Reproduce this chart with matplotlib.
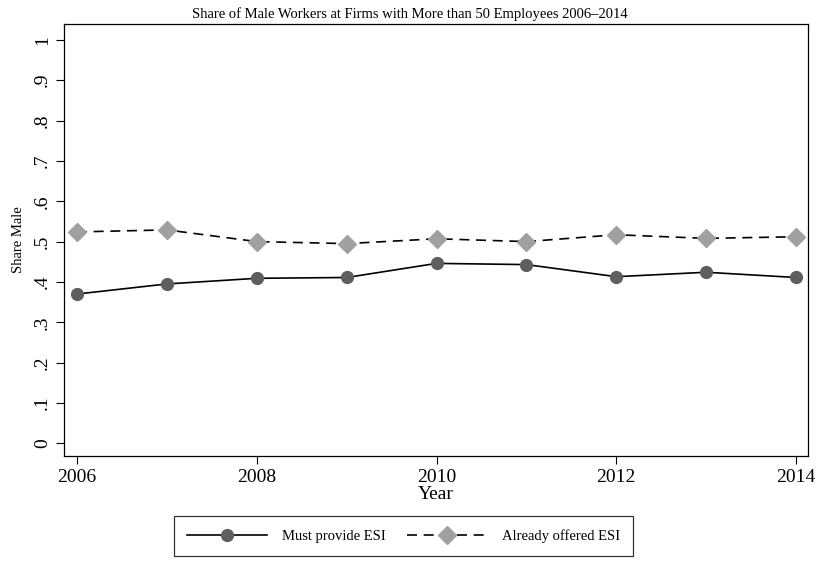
import numpy as np
import matplotlib.pyplot as plt
from matplotlib.ticker import FuncFormatter

years = [2006, 2007, 2008, 2009, 2010, 2011, 2012, 2013, 2014]
must_provide = [0.370, 0.395, 0.409, 0.411, 0.446, 0.443, 0.413, 0.424, 0.411]
already_offered = [0.524, 0.529, 0.500, 0.495, 0.507, 0.500, 0.517, 0.508, 0.512]
y_ticks = [0, 0.1, 0.2, 0.3, 0.4, 0.5, 0.6, 0.7, 0.8, 0.9, 1.0]
x_ticks = [2006, 2008, 2010, 2012, 2014]

plt.rcParams['font.family'] = ['Liberation Serif', 'DejaVu Serif']

fig = plt.figure(figsize=(8.2, 5.66), dpi=100)
ax = fig.add_axes([0.078, 0.194, 0.907, 0.764])

ax.plot(years, must_provide, '-', color='black', lw=1.2,
        marker='o', ms=8.5, mfc='#5e5e5e', mec='#5e5e5e', label="Must provide ESI")
ax.plot(years, already_offered, '--', color='black', lw=1.2, dashes=(6, 4),
        marker='D', ms=9.5, mfc='#a0a0a0', mec='#a0a0a0', label="Already offered ESI")

ax.set_xlim(2005.855, 2014.13)
ax.set_ylim(-0.032, 1.04)
ax.set_xticks(x_ticks)
ax.set_yticks(y_ticks)

def fmt(v, pos):
    if abs(v) < 1e-9:
        return "0"
    if abs(v - 1) < 1e-9:
        return "1"
    return ("%.1f" % v).lstrip("0")

ax.yaxis.set_major_formatter(FuncFormatter(fmt))
ax.tick_params(axis='both', direction='out', length=6, width=0.8, labelsize=14, colors='black')
for lab in ax.get_yticklabels():
    lab.set_rotation(90)
    lab.set_va('center')

for s in ax.spines.values():
    s.set_linewidth(0.9)

# Stata centres the title on the whole graph, not the plot region
fig.text(0.5, 0.968, "Share of Male Workers at Firms with More than 50 Employees 2006\u20132014",
         fontsize=10.5, ha='center', va='baseline')
ax.set_ylabel("Share Male", fontsize=10.5, labelpad=6)
ax.set_xlabel("Year", fontsize=14, labelpad=0)

fig.legend(loc='center', bbox_to_anchor=(0.492, 0.053), ncol=2, fontsize=10.5,
           frameon=True, fancybox=False, edgecolor='black', handlelength=5.5,
           columnspacing=1.5, borderpad=0.9, handletextpad=1.0, borderaxespad=0)
leg = fig.legends[0]
leg.get_frame().set_linewidth(0.9)

fig.savefig("out.png", dpi=100)
